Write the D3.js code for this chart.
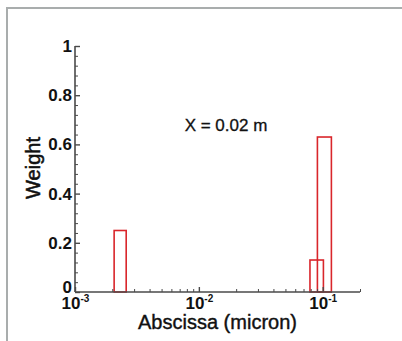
<!DOCTYPE html>
<html>
<head>
<meta charset="utf-8">
<script src="https://cdn.jsdelivr.net/npm/d3@7"></script>
<style>
  html, body { margin: 0; padding: 0; background: #fff; }
  svg { display: block; }
  text { font-family: "Liberation Sans", Arial, sans-serif; fill: #111; }
</style>
</head>
<body>
<svg id="chart" width="402" height="341"></svg>
<script>
// Size bins (micron): lower and upper edge of each bar, and its weight
const binLow  = [0.00207, 0.0789, 0.0906];
const binHigh = [0.00259, 0.1013, 0.1175];
const weight  = [0.25, 0.13, 0.63];

const xMajorTicks = [1e-3, 1e-2, 1e-1];
const xTickExp    = ["-3", "-2", "-1"];
const yTicks      = [0, 0.2, 0.4, 0.6, 0.8, 1];
const yTickLabels = ["0", "0.2", "0.4", "0.6", "0.8", "1"];

const svg = d3.select("#chart");

// outer frame
svg.append("path")
  .attr("d", "M7,341V8H402")
  .attr("fill", "none")
  .attr("stroke", "#a9adad")
  .attr("stroke-width", 2);

const plotL = 75, plotR = 360, plotT = 46, plotB = 292;

const x = d3.scaleLog().domain([1e-3, 0.2]).range([plotL, plotR]);
const y = d3.scaleLinear().domain([0, 1]).range([plotB, plotT]);

const axisColor = "#4a4a4a";

// bars
svg.append("g").selectAll("rect")
  .data(weight)
  .join("rect")
  .attr("x", (d, i) => x(binLow[i]))
  .attr("width", (d, i) => x(binHigh[i]) - x(binLow[i]))
  .attr("y", d => y(d))
  .attr("height", d => y(0) - y(d))
  .attr("fill", "none")
  .attr("stroke", "#d9262b")
  .attr("stroke-width", 1.6);

// minor y ticks
const yMinor = d3.range(0, 1.0001, 0.04).filter(v => Math.abs(v * 5 - Math.round(v * 5)) > 1e-6);
svg.append("g")
  .attr("transform", `translate(${plotL},0)`)
  .call(d3.axisLeft(y).tickValues(yMinor).tickSize(-3).tickFormat(""))
  .call(g => g.select(".domain").remove())
  .call(g => g.selectAll("line").attr("stroke", axisColor).attr("stroke-width", 1));

// minor x ticks (2..9 per decade)
const xMinor = [];
[1e-3, 1e-2, 1e-1].forEach(d => { for (let k = 2; k <= 9; k++) if (d * k <= 0.2) xMinor.push(d * k); });
svg.append("g")
  .attr("transform", `translate(0,${plotB})`)
  .call(d3.axisBottom(x).tickValues(xMinor).tickSize(-3).tickFormat(""))
  .call(g => g.select(".domain").remove())
  .call(g => g.selectAll("line").attr("stroke", axisColor).attr("stroke-width", 1));

// y axis
const yAxis = svg.append("g")
  .attr("transform", `translate(${plotL},0)`)
  .call(d3.axisLeft(y).tickValues(yTicks).tickSize(-5).tickPadding(3)
    .tickFormat((d, i) => yTickLabels[i]));
yAxis.select(".domain").attr("stroke", axisColor).attr("stroke-width", 1.6).attr("d", `M0,${plotB}V${plotT}`);
yAxis.selectAll("line").attr("stroke", axisColor).attr("stroke-width", 1.4);
yAxis.selectAll("text")
  .style("font-family", "'Liberation Sans', Arial, sans-serif")
  .style("font-size", "17px").style("font-weight", "bold").attr("fill", "#111")
  .attr("dy", "0.32em");
yAxis.selectAll(".tick").filter(d => d === 0).select("text").attr("dy", "0.05em");

// x axis with 10^n labels
const xAxis = svg.append("g")
  .attr("transform", `translate(0,${plotB})`)
  .call(d3.axisBottom(x).tickValues(xMajorTicks).tickSize(-5).tickFormat(""));
xAxis.select(".domain").attr("stroke", axisColor).attr("stroke-width", 1.6).attr("d", `M${plotL},0H${plotR}`);
xAxis.selectAll("line").attr("stroke", axisColor).attr("stroke-width", 1.4);
xAxis.selectAll(".tick").each(function (d, i) {
  const t = d3.select(this).append("text")
    .attr("y", 17)
    .attr("text-anchor", "middle")
    .style("font-family", "'Liberation Sans', Arial, sans-serif")
    .style("font-size", "17px").style("font-weight", "bold")
    .attr("fill", "#111");
  t.append("tspan").text("10");
  t.append("tspan").attr("dy", -7).style("font-size", "10px").text(xTickExp[i]);
});

// axis titles
svg.append("text")
  .attr("transform", `translate(33,${(plotT + plotB) / 2 - 1}) rotate(-90)`)
  .attr("text-anchor", "middle")
  .attr("dominant-baseline", "central")
  .style("font-size", "20px")
  .attr("stroke", "#111").attr("stroke-width", 0.5)
  .text("Weight");

svg.append("text")
  .attr("x", 217.5).attr("y", 329)
  .attr("text-anchor", "middle")
  .style("font-size", "20px")
  .attr("stroke", "#111").attr("stroke-width", 0.4)
  .text("Abscissa (micron)");

// annotation
svg.append("text")
  .attr("x", 226).attr("y", 131)
  .attr("text-anchor", "middle")
  .style("font-size", "17px")
  .attr("stroke", "#111").attr("stroke-width", 0.3)
  .text("X = 0.02 m");
</script>
</body>
</html>
